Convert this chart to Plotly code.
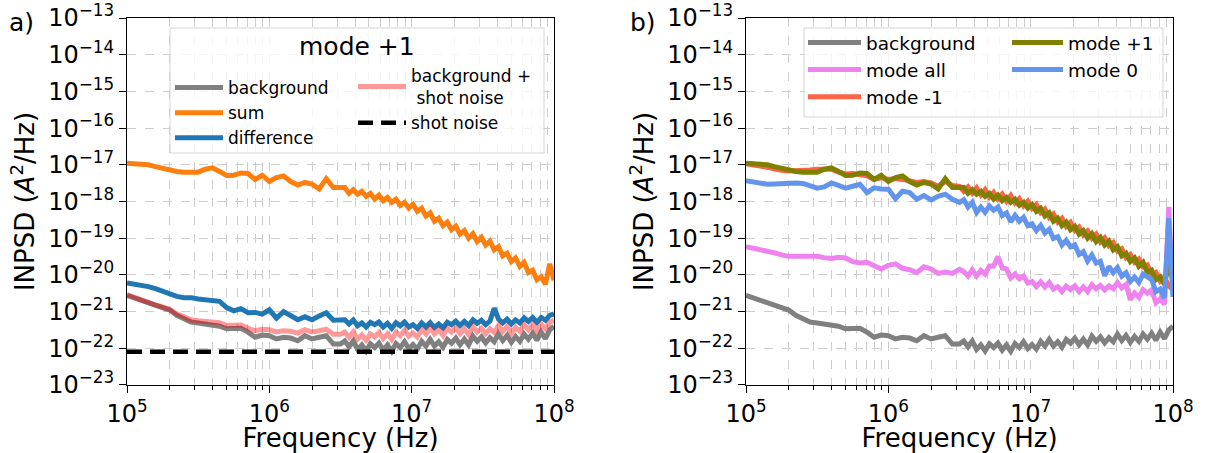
import math
import plotly.graph_objects as go

# ---------------- data ----------------
freq_hz = [
    1.000e5, 1.122e5, 1.259e5, 1.413e5, 1.585e5, 1.778e5, 1.995e5, 2.239e5, 2.512e5, 2.818e5,
    3.162e5, 3.548e5, 3.981e5, 4.467e5, 5.012e5, 5.623e5, 6.310e5, 7.079e5, 7.943e5, 8.913e5,
    1.000e6, 1.122e6, 1.259e6, 1.413e6, 1.585e6, 1.778e6, 1.995e6, 2.239e6, 2.512e6, 2.818e6,
    3.162e6,
    3.388e6, 3.631e6, 3.890e6, 4.169e6, 4.467e6, 4.786e6, 5.129e6, 5.495e6, 5.888e6, 6.310e6,
    6.761e6, 7.244e6, 7.762e6, 8.318e6, 8.913e6, 9.550e6,
    1.023e7, 1.096e7, 1.175e7, 1.259e7, 1.349e7, 1.445e7, 1.549e7, 1.660e7, 1.778e7, 1.905e7,
    2.042e7, 2.188e7, 2.344e7, 2.512e7, 2.692e7, 2.884e7, 3.090e7, 3.311e7, 3.548e7, 3.802e7,
    4.074e7, 4.365e7, 4.677e7, 5.012e7, 5.370e7, 5.754e7, 6.166e7, 6.607e7, 7.079e7, 7.586e7,
    8.128e7, 8.710e7, 9.333e7, 1.000e8,
]

psd_background = [
    2.75e-21, 2.35e-21, 1.95e-21, 1.66e-21, 1.45e-21, 1.29e-21, 1.1e-21, 7.9e-22, 6.3e-22, 5.2e-22,
    4.9e-22, 4.7e-22, 4.5e-22, 4.0e-22, 3.4e-22, 3.5e-22, 3.5e-22, 2.75e-22, 2.0e-22, 2.3e-22,
    2.2e-22, 1.8e-22, 2.0e-22, 1.9e-22, 1.6e-22, 2.2e-22, 1.8e-22, 2.0e-22, 2.2e-22, 1.3e-22,
    1.3e-22,
    1.58e-22, 1.10e-22, 1.58e-22, 9.3e-23, 1.23e-22, 8.5e-23, 1.32e-22, 1.05e-22, 1.38e-22, 8.9e-23,
    1.23e-22, 8.3e-23, 1.35e-22, 1.05e-22, 1.51e-22, 9.8e-23,
    1.26e-22, 9.5e-23, 1.55e-22, 1.15e-22, 1.74e-22, 1.15e-22, 1.51e-22, 1.07e-22, 1.74e-22, 1.38e-22,
    1.9e-22, 1.26e-22, 1.78e-22, 1.23e-22, 2.14e-22, 1.55e-22, 2.04e-22, 1.41e-22, 1.95e-22, 1.51e-22,
    2.45e-22, 1.62e-22, 2.24e-22, 1.45e-22, 2.1e-22, 1.55e-22, 2.45e-22, 1.78e-22, 2.57e-22, 1.66e-22,
    2.75e-22, 1.82e-22, 3.16e-22, 4.0e-22,
]

psd_sum_mode_p1 = [
    1.11e-17, 1.10e-17, 1.05e-17, 1.0e-17, 8.9e-18, 7.9e-18, 7.1e-18, 6.6e-18, 6.3e-18, 6.2e-18,
    6.3e-18, 7.6e-18, 8.3e-18, 6.6e-18, 5.1e-18, 5.2e-18, 6.0e-18, 5.8e-18, 4.0e-18, 5.2e-18,
    3.5e-18, 4.5e-18, 5.0e-18, 3.5e-18, 2.8e-18, 3.3e-18, 3.0e-18, 2.2e-18, 4.2e-18, 2.4e-18,
    2.4e-18,
    2.4e-18, 1.66e-18, 2.1e-18, 1.58e-18, 1.9e-18, 1.38e-18, 1.66e-18, 1.17e-18, 1.48e-18, 1.05e-18,
    1.29e-18, 9.5e-19, 1.15e-18, 7.9e-19, 9.5e-19, 6.6e-19,
    8.3e-19, 5.4e-19, 6.6e-19, 4.0e-19, 4.9e-19, 2.9e-19, 3.5e-19, 2.2e-19, 2.75e-19, 1.7e-19,
    2.1e-19, 1.29e-19, 1.62e-19, 1.0e-19, 1.32e-19, 8.1e-20, 1.05e-19, 6.5e-20, 8.3e-20, 4.8e-20,
    5.9e-20, 3.3e-20, 3.9e-20, 2.3e-20, 2.9e-20, 1.7e-20, 2.2e-20, 1.17e-20, 1.35e-20, 7.4e-21,
    8.9e-21, 5.6e-21, 2.0e-20, 7.1e-21,
]

psd_difference = [
    6.0e-21, 5.6e-21, 5.1e-21, 4.8e-21, 4.2e-21, 3.5e-21, 3.0e-21, 2.6e-21, 2.4e-21, 2.4e-21,
    2.2e-21, 2.05e-21, 2.05e-21, 1.9e-21, 1.29e-21, 1.05e-21, 1.2e-21, 9.3e-22, 9.5e-22, 8.5e-22,
    1.12e-21, 6.6e-22, 1.0e-21, 7.9e-22, 6.0e-22, 7.2e-22, 6.0e-22, 7.6e-22, 9.3e-22, 5.8e-22,
    6.0e-22,
    6.0e-22, 4.6e-22, 5.9e-22, 4.1e-22, 4.9e-22, 3.8e-22, 5.1e-22, 4.4e-22, 5.2e-22, 3.8e-22,
    4.8e-22, 3.5e-22, 5.0e-22, 4.1e-22, 5.2e-22, 3.8e-22,
    4.4e-22, 3.5e-22, 4.9e-22, 3.8e-22, 5.0e-22, 3.7e-22, 4.6e-22, 3.6e-22, 5.1e-22, 4.4e-22,
    5.5e-22, 4.2e-22, 5.4e-22, 4.2e-22, 6.0e-22, 4.8e-22, 5.8e-22, 4.4e-22, 5.5e-22, 1.23e-21,
    6.3e-22, 4.9e-22, 6.2e-22, 4.6e-22, 5.9e-22, 4.9e-22, 6.8e-22, 5.4e-22, 6.9e-22, 5.1e-22,
    6.9e-22, 5.8e-22, 7.9e-22, 8.7e-22,
]

psd_bg_plus_shot = [
    2.9e-21, 2.45e-21, 2.05e-21, 1.74e-21, 1.51e-21, 1.35e-21, 1.15e-21, 8.7e-22, 7.1e-22, 6.0e-22,
    5.6e-22, 5.5e-22, 5.4e-22, 5.0e-22, 4.2e-22, 4.3e-22, 4.3e-22, 3.5e-22, 3.0e-22, 3.3e-22,
    3.2e-22, 2.8e-22, 3.0e-22, 2.9e-22, 2.6e-22, 3.2e-22, 2.8e-22, 3.0e-22, 3.3e-22, 2.4e-22,
    2.4e-22,
    2.75e-22, 2.0e-22, 2.8e-22, 1.78e-22, 2.3e-22, 1.66e-22, 2.45e-22, 2.04e-22, 2.7e-22, 1.82e-22,
    2.5e-22, 1.74e-22, 2.75e-22, 2.2e-22, 3.1e-22, 2.14e-22,
    2.6e-22, 2.04e-22, 3.2e-22, 2.45e-22, 3.6e-22, 2.45e-22, 3.2e-22, 2.24e-22, 3.5e-22, 2.75e-22,
    3.6e-22, 2.5e-22, 3.4e-22, 2.35e-22, 3.9e-22, 2.8e-22, 3.5e-22, 2.5e-22, 3.4e-22, 2.7e-22,
    4.2e-22, 2.9e-22, 3.9e-22, 2.6e-22, 3.7e-22, 2.9e-22, 4.4e-22, 3.2e-22, 4.5e-22, 2.95e-22,
    4.5e-22, 3.4e-22, 5.1e-22, 5.8e-22,
]

shot_noise_hz = [1.0e5, 1.0e8]
shot_noise_level = [8.0e-23, 8.0e-23]

psd_mode_all = [
    5.9e-20, 5.4e-20, 4.9e-20, 4.5e-20, 4.0e-20, 3.5e-20, 3.2e-20, 3.2e-20, 3.2e-20, 3.3e-20,
    3.2e-20, 2.95e-20, 2.8e-20, 3.0e-20, 2.9e-20, 2.3e-20, 2.1e-20, 2.2e-20, 1.74e-20, 1.45e-20,
    1.82e-20, 2.0e-20, 1.51e-20, 1.38e-20, 1.15e-20, 1.66e-20, 1.45e-20, 1.1e-20, 1.2e-20, 1.1e-20,
    1.41e-20,
    1.23e-20, 9.3e-21, 1.38e-20, 9.3e-21, 1.32e-20, 1.05e-20, 1.74e-20, 1.74e-20, 3.16e-20, 1.55e-20,
    1.45e-20, 8.3e-21, 1.05e-20, 7.8e-21, 9.3e-21, 6.0e-21,
    6.6e-21, 4.8e-21, 6.5e-21, 4.7e-21, 6.2e-21, 4.1e-21, 4.8e-21, 3.5e-21, 4.9e-21, 4.0e-21,
    5.0e-21, 3.5e-21, 4.7e-21, 3.5e-21, 5.4e-21, 4.2e-21, 5.2e-21, 3.9e-21, 5.0e-21, 4.2e-21,
    6.2e-21, 4.4e-21, 5.5e-21, 2.1e-21, 3.2e-21, 2.45e-21, 4.0e-21, 3.2e-21, 3.9e-21, 1.74e-21,
    2.24e-21, 1.58e-21, 7.1e-19, 3.5e-21,
]

psd_mode_m1 = [
    1.07e-17, 1.02e-17, 9.3e-18, 8.5e-18, 7.6e-18, 7.1e-18, 6.8e-18, 6.8e-18, 7.1e-18, 7.2e-18,
    7.6e-18, 7.9e-18, 7.6e-18, 6.3e-18, 5.6e-18, 5.8e-18, 5.5e-18, 5.0e-18, 4.0e-18, 4.4e-18,
    4.0e-18, 4.2e-18, 4.0e-18, 3.6e-18, 3.3e-18, 3.5e-18, 3.2e-18, 2.6e-18, 3.5e-18, 2.75e-18,
    2.6e-18,
    1.9e-18, 2.5e-18, 1.7e-18, 2.35e-18, 1.51e-18, 2.1e-18, 1.32e-18, 1.78e-18, 1.17e-18, 1.58e-18,
    1.02e-18, 1.45e-18, 9.1e-19, 1.2e-18, 7.6e-19, 1.02e-18,
    6.5e-19, 8.3e-19, 5.0e-19, 6.2e-19, 3.7e-19, 4.6e-19, 2.75e-19, 3.5e-19, 2.1e-19, 2.7e-19,
    1.62e-19, 2.0e-19, 1.23e-19, 1.58e-19, 1.0e-19, 1.29e-19, 7.9e-20, 1.02e-19, 6.3e-20, 7.6e-20,
    4.5e-20, 5.2e-20, 2.95e-20, 3.6e-20, 2.2e-20, 2.7e-20, 1.66e-20, 1.86e-20, 1.02e-20, 1.17e-20,
    6.8e-21, 8.7e-21, 5.0e-21, 4.0e-21,
]

psd_mode_0 = [
    3.7e-18, 3.4e-18, 3.1e-18, 2.95e-18, 3.0e-18, 3.1e-18, 3.2e-18, 3.2e-18, 3.1e-18, 2.6e-18,
    2.3e-18, 2.5e-18, 3.2e-18, 2.75e-18, 2.3e-18, 2.6e-18, 2.95e-18, 1.74e-18, 2.35e-18, 2.2e-18,
    2.15e-18, 1.2e-18, 1.9e-18, 1.74e-18, 1.15e-18, 1.45e-18, 1.1e-18, 1.38e-18, 1.58e-18, 1.15e-18,
    9.5e-19,
    1.12e-18, 7.1e-19, 9.5e-19, 5.0e-19, 7.1e-19, 5.1e-19, 7.6e-19, 5.8e-19, 7.1e-19, 4.1e-19,
    4.9e-19, 2.8e-19, 4.2e-19, 2.9e-19, 3.7e-19, 2.2e-19,
    2.45e-19, 1.62e-19, 2.24e-19, 1.38e-19, 1.74e-19, 9.8e-20, 1.1e-19, 6.5e-20, 8.7e-20, 5.8e-20,
    6.6e-20, 3.6e-20, 4.3e-20, 2.4e-20, 3.5e-20, 2.1e-20, 2.35e-20, 9.5e-21, 1.7e-20, 1.15e-20,
    1.58e-20, 9.3e-21, 1.15e-20, 6.6e-21, 8.7e-21, 6.2e-21, 1.05e-20, 8.5e-21, 7.4e-21, 3.5e-21,
    4.1e-21, 2.35e-21, 3.5e-19, 2.5e-21,
]

band_hz = [8.5e6, 1.16e7]

x_tick_vals = [1e5, 1e6, 1e7, 1e8]
x_tick_text = ["10<sup>5</sup>", "10<sup>6</sup>", "10<sup>7</sup>", "10<sup>8</sup>"]
y_tick_vals = [1e-23, 1e-22, 1e-21, 1e-20, 1e-19, 1e-18, 1e-17, 1e-16, 1e-15, 1e-14, 1e-13]
y_tick_text = ["10<sup>\u221223</sup>", "10<sup>\u221222</sup>", "10<sup>\u221221</sup>",
               "10<sup>\u221220</sup>", "10<sup>\u221219</sup>", "10<sup>\u221218</sup>",
               "10<sup>\u221217</sup>", "10<sup>\u221216</sup>", "10<sup>\u221215</sup>",
               "10<sup>\u221214</sup>", "10<sup>\u221213</sup>"]

# ---------------- figure ----------------
FONT = "DejaVu Sans"
LW = 5
fig = go.Figure()


def add(y, name, color, xa, ya, legend, x=None, dash=None, width=LW):
    fig.add_trace(go.Scatter(
        x=freq_hz if x is None else x, y=y, name=name, mode="lines",
        line=dict(color=color, width=width, dash=dash),
        xaxis=xa, yaxis=ya, legend=legend, hoverinfo="skip"))


# panel a
add(psd_background, "background", "#808080", "x", "y", "legend")
add(psd_sum_mode_p1, "sum", "#ff7f0e", "x", "y", "legend")
add(psd_difference, "difference", "#1f77b4", "x", "y", "legend")
add(psd_bg_plus_shot, "background +<br> shot noise", "rgba(255,0,0,0.4)", "x", "y", "legend2")
add(shot_noise_level, "shot noise", "black", "x", "y", "legend2", x=shot_noise_hz,
    dash="15px,8px", width=4.5)

# panel b
add(psd_background, "background", "#808080", "x2", "y2", "legend3")
add(psd_mode_all, "mode all", "#ee82ee", "x2", "y2", "legend3")
add(psd_mode_m1, "mode -1", "#ff6347", "x2", "y2", "legend3")
add(psd_sum_mode_p1, "mode +1", "#808000", "x2", "y2", "legend4")
add(psd_mode_0, "mode 0", "#6495ed", "x2", "y2", "legend4")

GRID = "#cdcdcd"
axis_common = dict(
    type="log", showline=True, linecolor="black", linewidth=1, mirror=True,
    ticks="outside", ticklen=7, tickwidth=1, tickcolor="black",
    showgrid=True, gridcolor=GRID, griddash="dash", gridwidth=1,
    zeroline=False, tickmode="array",
    tickfont=dict(family=FONT, size=24, color="black"),
)

xaxis_common = dict(axis_common, range=[5, 8], tickvals=x_tick_vals, ticktext=x_tick_text,
                    title=dict(text="Frequency (Hz)", font=dict(family=FONT, size=26, color="black"),
                               standoff=2),
                    minor=dict(ticks="outside", ticklen=4, tickcolor="black", dtick="D1",
                               showgrid=True, gridcolor=GRID, griddash="dash", gridwidth=1))
yaxis_common = dict(axis_common, range=[-23.0005, -12.9995], tickvals=y_tick_vals, ticktext=y_tick_text,
                    title=dict(text="INPSD (<i>A</i><sup>2</sup>/Hz)",
                               font=dict(family=FONT, size=26, color="black"), standoff=6))

W, H = 1207, 453
ML, MR, MT, MB = 127, 34, 18, 68
PW = W - ML - MR
PH = H - MT - MB


def px(xp):
    return (xp - ML) / PW


def py(yp):
    return (H - MB - yp) / PH


leg_common = dict(xanchor="left", yanchor="top", bgcolor="rgba(0,0,0,0)", borderwidth=0,
                  valign="middle", traceorder="normal", tracegroupgap=0)

fig.update_layout(
    width=W, height=H,
    margin=dict(l=ML, r=MR, t=MT, b=MB, autoexpand=False),
    paper_bgcolor="white", plot_bgcolor="white",
    font=dict(family=FONT, color="black"),
    xaxis=dict(xaxis_common, domain=[0, px(554)], anchor="y"),
    yaxis=dict(yaxis_common, domain=[0, 1], anchor="x"),
    xaxis2=dict(xaxis_common, domain=[px(746), 1], anchor="y2"),
    yaxis2=dict(yaxis_common, domain=[0, 1], anchor="x2"),
    legend=dict(leg_common, x=px(170), y=py(70), itemwidth=48,
                font=dict(family=FONT, size=17, color="black")),
    legend2=dict(leg_common, x=px(353), y=py(58), itemwidth=48,
                 font=dict(family=FONT, size=17, color="black")),
    legend3=dict(leg_common, x=px(803), y=py(24), itemwidth=53,
                 font=dict(family=FONT, size=18.5, color="black")),
    legend4=dict(leg_common, x=px(1007), y=py(24), itemwidth=51,
                 font=dict(family=FONT, size=18.5, color="black")),
    showlegend=True,
)

# highlighted band in panel a (log units for shapes on log axes)
fig.add_shape(type="rect", xref="x", yref="y domain",
              x0=math.log10(band_hz[0]), x1=math.log10(band_hz[1]), y0=0, y1=1,
              fillcolor="rgba(230,150,90,0.3)", line=dict(width=0), layer="above")

# legend frames
fig.add_shape(type="rect", xref="paper", yref="paper", x0=px(170), x1=px(544), y0=py(153), y1=py(28),
              fillcolor="rgba(255,255,255,0.8)", line=dict(color="#d4d4d4", width=1), layer="above")
fig.add_shape(type="rect", xref="paper", yref="paper", x0=px(804), x1=px(1163), y0=py(117), y1=py(28),
              fillcolor="rgba(255,255,255,0.8)", line=dict(color="#d4d4d4", width=1), layer="above")

fig.add_annotation(text="mode +1", xref="paper", yref="paper", x=px(357), y=py(46),
                   xanchor="center", yanchor="middle", showarrow=False,
                   font=dict(family=FONT, size=25, color="black"))
fig.add_annotation(text="a)", xref="paper", yref="paper", x=px(7), y=py(22),
                   xanchor="left", yanchor="middle", showarrow=False,
                   font=dict(family=FONT, size=25, color="black"))
fig.add_annotation(text="b)", xref="paper", yref="paper", x=px(628), y=py(22),
                   xanchor="left", yanchor="middle", showarrow=False,
                   font=dict(family=FONT, size=25, color="black"))

fig.write_html("out.html", config={"displayModeBar": False},
               post_script="document.body.style.margin='0px';")
